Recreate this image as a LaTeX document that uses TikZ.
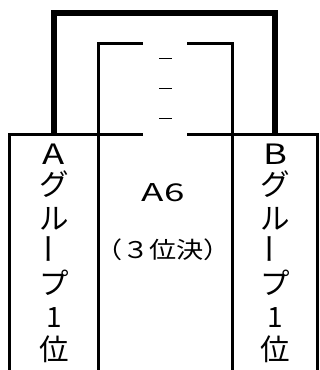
\documentclass[tikz,border=0pt]{standalone}
\usepackage{fontspec}
\setmainfont{Noto Sans CJK JP}
\begin{document}
\begin{tikzpicture}[x=1pt,y=-1pt,
  thickline/.style={line width=5.5pt, line join=miter},
  thinline/.style={line width=3pt, line join=miter},
  dashline/.style={line width=1.5pt},
  colchar/.style={font=\fontsize{29.5}{32}\selectfont, inner sep=0pt},
  collatin/.style={font=\fontsize{28}{32}\selectfont, inner sep=0pt, xscale=1.3},
  colone/.style={font=\fontsize{28}{32}\selectfont, inner sep=0pt},
  colbar/.style={font=\fontsize{31}{34}\selectfont, inner sep=0pt, rotate=90},
  midbig/.style={font=\fontsize{24.5}{28}\selectfont, inner sep=0pt, xscale=1.5},
  midsmall/.style={font=\fontsize{23}{26}\selectfont, inner sep=0pt, xscale=1.18}]
\useasboundingbox (0,0) rectangle (320,370);
% named corner points
\coordinate (lb) at (9.2,372);
\coordinate (lt) at (9.2,134);
\coordinate (gl) at (143,134);
\coordinate (gr) at (187,134);
\coordinate (rt) at (317.5,134);
\coordinate (rb) at (317.5,372);
\coordinate (ilb) at (98.3,372);
\coordinate (ilt) at (98.3,43.5);
\coordinate (ile) at (143,43.5);
\coordinate (ire) at (187,43.5);
\coordinate (irt) at (232.3,43.5);
\coordinate (irb) at (232.3,372);
\coordinate (tl0) at (53.8,134);
\coordinate (tl1) at (53.8,13);
\coordinate (tr1) at (275,13);
\coordinate (tr0) at (275,134);
% frame lines
\draw[thinline] (lb) -- (lt) -- (gl);
\draw[thinline] (gr) -- (rt) -- (rb);
\draw[thinline] (ilb) -- (ilt) -- (ile);
\draw[thinline] (ire) -- (irt) -- (irb);
\draw[thickline] (tl0) -- (tl1) -- (tr1) -- (tr0);
% dashes
\coordinate (d1a) at (159,58.3); \coordinate (d1b) at (172,58.3);
\coordinate (d2a) at (159,88.3); \coordinate (d2b) at (172,88.3);
\coordinate (d3a) at (159,118.3); \coordinate (d3b) at (172,118.3);
\draw[dashline] (d1a) -- (d1b);
\draw[dashline] (d2a) -- (d2b);
\draw[dashline] (d3a) -- (d3b);
% left column
\node[collatin] (a1) at (53.8,154) {A};
\node[colchar] (a2) at (53.8,184) {グ};
\node[colchar] (a3) at (53.8,219) {ル};
\node[colbar] (a4) at (53.8,249) {ー};
\node[colchar] (a5) at (53.8,283) {プ};
\node[colone] (a6) at (53.8,318) {1};
\node[colchar] (a7) at (53.8,349) {位};
% right column
\node[collatin] (b1) at (275,154) {B};
\node[colchar] (b2) at (275,184) {グ};
\node[colchar] (b3) at (275,219) {ル};
\node[colbar] (b4) at (275,249) {ー};
\node[colchar] (b5) at (275,283) {プ};
\node[colone] (b6) at (275,318) {1};
\node[colchar] (b7) at (275,349) {位};
% middle
\node[midbig] (m1) at (163.3,192.5) {A6};
\node[midsmall] (m2) at (163,250) {（３位決）};
\end{tikzpicture}
\end{document}
